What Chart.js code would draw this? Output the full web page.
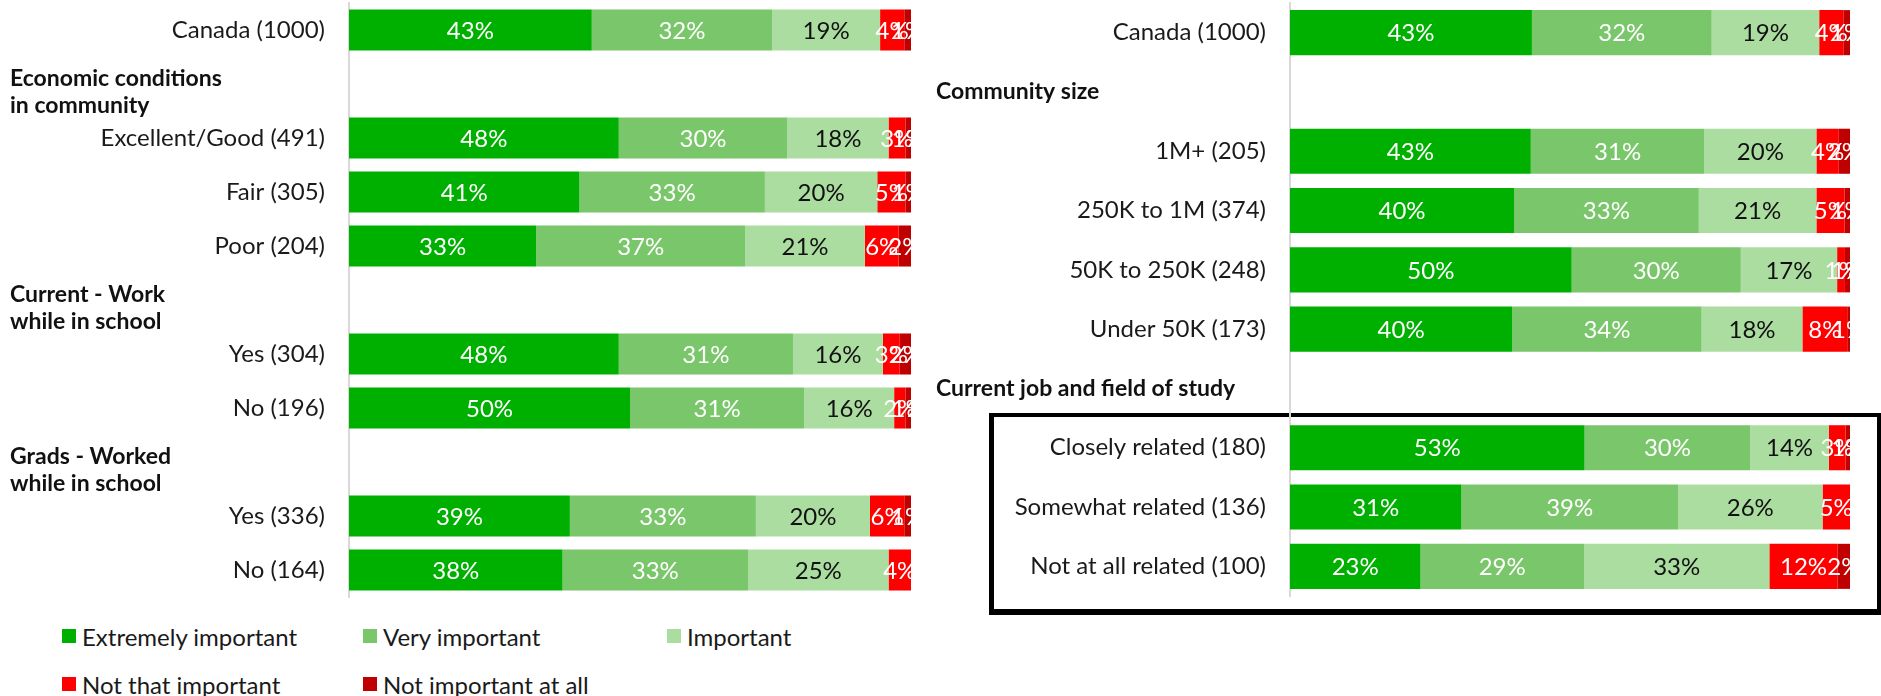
<!DOCTYPE html>
<html>
<head>
<meta charset="utf-8">
<script src="https://cdn.jsdelivr.net/npm/chart.js@4.4.0/dist/chart.umd.min.js"></script>
<style>
    html, body { margin: 0; padding: 0; background: #fff; }
    body { width: 1881px; height: 696px; position: relative; overflow: hidden; font-family: Lato, sans-serif; color: #1a1a1a; }
    #box { position: absolute; left: 989px; top: 413px; width: 883px; height: 192px;
           border: 4px solid #000; border-left-width: 5px; border-bottom-width: 6px; }
    #leftChart { position: absolute; left: 0; top: 0; }
    #rightChart { position: absolute; left: 926px; top: 0; }
    .legend-item { position: absolute; height: 28px; display: flex; align-items: center; font-size: 24px; white-space: nowrap; }
    .legend-item span.sw { width: 14px; height: 14px; margin-right: 6px; display: inline-block; }
</style>
</head>
<body>
<div id="box"></div>
<canvas id="leftChart" width="912" height="600"></canvas>
<canvas id="rightChart" width="925" height="600"></canvas>
<div id="legend"></div>

<script>
// series names and colours
const seriesNames = ['Extremely important', 'Very important', 'Important', 'Not that important', 'Not important at all'];
const seriesColors = ['#00b000', '#7ac66b', '#acdda0', '#ff0000', '#bf0000'];
const labelColors = ['#ffffff', '#ffffff', '#111111', '#ffffff', '#ffffff'];

// left panel (blank labels are the slots used by the section headings)
const leftLabels = ['Canada (1000)', '', 'Excellent/Good (491)', 'Fair (305)', 'Poor (204)', '',
    'Yes (304)', 'No (196)', '', 'Yes (336)', 'No (164)'];
const leftExtremely = [43.2, null, 48, 41, 33.3, null, 48, 50, null, 39.3, 38];
const leftVery      = [32.1, null, 30, 33, 37.2, null, 31, 31, null, 33.1, 33];
const leftImportant = [19.2, null, 18, 20, 21.3, null, 16, 16, null, 20.3, 25];
const leftNotThat   = [4.3,  null, 3,  5,  6.0,  null, 3,  2,  null, 6.1,  4];
const leftNotAtAll  = [1.2,  null, 1,  1,  2.2,  null, 2,  1,  null, 1.2,  0];
const leftHeadingSlots = [1, 5, 8];
const leftHeadingText = [['Economic conditions', 'in community'], ['Current - Work', 'while in school'], ['Grads - Worked', 'while in school']];

// right panel
const rightLabels = ['Canada (1000)', '', '1M+ (205)', '250K to 1M (374)', '50K to 250K (248)', 'Under 50K (173)', '',
    'Closely related (180)', 'Somewhat related (136)', 'Not at all related (100)'];
const rightExtremely = [43.2, null, 43, 40, 50.3, 39.7, null, 52.6, 30.6, 23.3];
const rightVery      = [32.1, null, 31, 33, 30.2, 33.8, null, 29.6, 38.7, 29.2];
const rightImportant = [19.2, null, 20, 21, 17.2, 18.0, null, 14.0, 25.8, 33.1];
const rightNotThat   = [4.3,  null, 4,  5,  1.4,  8.0,  null, 3.0,  4.9,  12.2];
const rightNotAtAll  = [1.2,  null, 2,  1,  0.9,  0.5,  null, 0.8,  0,    2.2];
const rightHeadingSlots = [1, 6];
const rightHeadingText = [['Community size'], ['Current job and field of study']];

const FONT = 'Lato';

// percentage labels centred in each segment, clipped to the plot
const segmentLabels = {
    id: 'segmentLabels',
    afterDatasetsDraw(chart) {
        const ctx = chart.ctx;
        const area = chart.chartArea;
        ctx.save();
        ctx.beginPath();
        ctx.rect(area.left, area.top, area.right - area.left, area.bottom - area.top);
        ctx.clip();
        ctx.font = `24px ${FONT}`;
        ctx.textAlign = 'center';
        ctx.textBaseline = 'middle';
        chart.data.datasets.forEach((ds, i) => {
            const meta = chart.getDatasetMeta(i);
            meta.data.forEach((bar, j) => {
                const v = ds.data[j];
                if (!v) return;
                ctx.fillStyle = labelColors[i];
                ctx.fillText(Math.round(v) + '%', (bar.x + bar.base) / 2, bar.y + 1);
            });
        });
        ctx.restore();
    }
};

// bold section titles drawn in the empty category slots
const sectionHeadings = {
    id: 'sectionHeadings',
    afterDraw(chart, args, opts) {
        const ctx = chart.ctx;
        const yScale = chart.scales.y;
        ctx.save();
        ctx.font = `bold 23px ${FONT}`;
        ctx.fillStyle = '#111';
        ctx.textAlign = 'left';
        ctx.textBaseline = 'middle';
        opts.slots.forEach((slot, k) => {
            const lines = opts.text[k];
            const cy = yScale.getPixelForValue(slot);
            lines.forEach((line, n) => {
                const dy = lines.length === 1 ? 0 : opts.offsets[n];
                ctx.fillText(line, 10, cy + dy);
            });
        });
        ctx.restore();
    }
};

function makeChart(canvasId, labels, values, axisWidth, padding, headingSlots, headingText) {
    const datasets = values.map((data, i) => ({
        label: seriesNames[i],
        data: data,
        backgroundColor: seriesColors[i],
        borderWidth: 0,
        barPercentage: 1,
        categoryPercentage: 0.76
    }));

    return new Chart(document.getElementById(canvasId), {
        type: 'bar',
        data: { labels: labels, datasets: datasets },
        options: {
            indexAxis: 'y',
            responsive: false,
            animation: false,
            layout: { padding: padding },
            scales: {
                x: { stacked: true, min: 0, max: 100, display: false },
                y: {
                    stacked: true,
                    grid: { display: false, drawTicks: false },
                    border: { display: true, color: '#d9d9d9', width: 2 },
                    ticks: { color: '#1a1a1a', font: { family: FONT, size: 24 }, padding: 24, autoSkip: false },
                    afterFit(scale) {
                        // fixed label column, no extra room above/below the first/last label
                        scale.width = axisWidth;
                        scale.paddingTop = 0;
                        scale.paddingBottom = 0;
                    }
                }
            },
            plugins: {
                legend: { display: false },
                tooltip: { enabled: false },
                sectionHeadings: { slots: headingSlots, text: headingText, offsets: [-5, 22] }
            }
        },
        plugins: [segmentLabels, sectionHeadings]
    });
}

makeChart('leftChart', leftLabels,
    [leftExtremely, leftVery, leftImportant, leftNotThat, leftNotAtAll],
    349, { top: 3, bottom: 3, right: 1, left: 0 }, leftHeadingSlots, leftHeadingText);

makeChart('rightChart', rightLabels,
    [rightExtremely, rightVery, rightImportant, rightNotThat, rightNotAtAll],
    364, { top: 3, bottom: 4, right: 1, left: 0 }, rightHeadingSlots, rightHeadingText);

// legend, two rows under the left panel
const legendCols = [62, 363, 667];
const legendRows = [636, 684];
const legend = document.getElementById('legend');
seriesNames.forEach((name, i) => {
    const item = document.createElement('div');
    item.className = 'legend-item';
    item.style.left = legendCols[i % 3] + 'px';
    item.style.top = (legendRows[Math.floor(i / 3)] - 14) + 'px';
    item.innerHTML = `<span class="sw" style="background:${seriesColors[i]}"></span>${name}`;
    legend.appendChild(item);
});
</script>
</body>
</html>
